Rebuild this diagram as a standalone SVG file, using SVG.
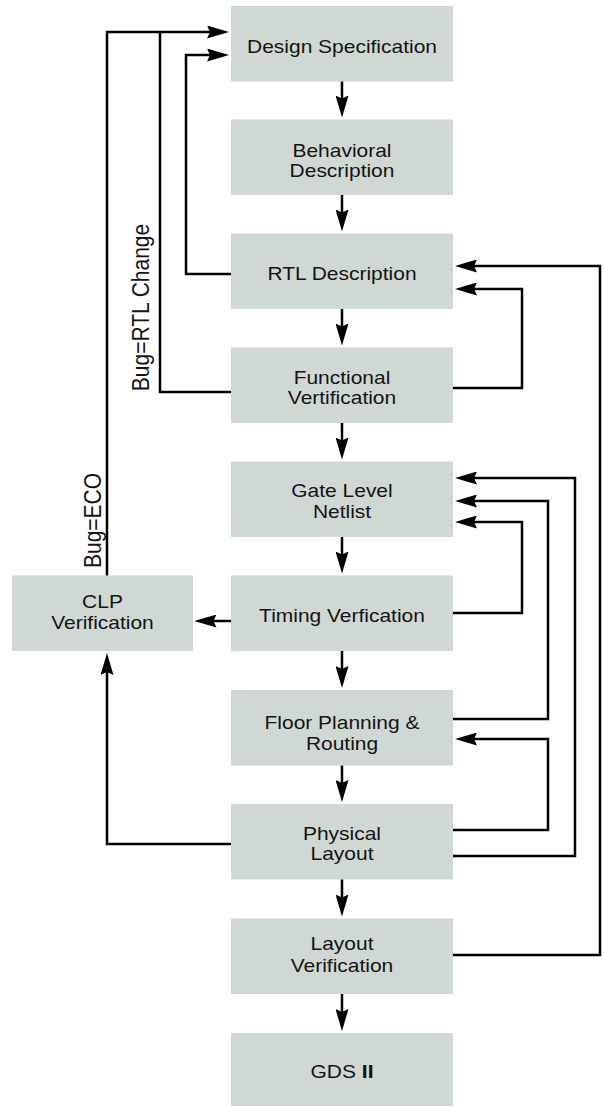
<svg xmlns="http://www.w3.org/2000/svg" width="604" height="1107" viewBox="0 0 604 1107">
<style>
.box{fill:#cfd8d3;}
.t{font-family:"Liberation Sans",Arial,Helvetica,sans-serif;font-size:18px;fill:#141414;text-anchor:middle;}
.r{font-family:"Liberation Sans",Arial,Helvetica,sans-serif;font-size:21px;fill:#141414;text-anchor:middle;}
.c{fill:none;stroke:#000;stroke-width:2.5;}
.a{marker-end:url(#ah);}
</style>
<defs>
<marker id="ah" markerUnits="userSpaceOnUse" viewBox="0 0 22 13" markerWidth="22" markerHeight="13" refX="4" refY="6.5" orient="auto">
<path d="M0,0 L22,6.5 L0,13 L3,6.5 z" fill="#000"/>
</marker>
</defs>
<rect width="604" height="1107" fill="#fff"/>

<g id="design-spec"><rect class="box" x="231" y="6" width="222" height="75.5"/>
<text class="t" transform="translate(342,52.5) scale(1.165,1)">Design Specification</text></g>
<g id="behavioral"><rect class="box" x="231" y="119.5" width="222" height="75.5"/>
<text class="t" transform="translate(342,156.7) scale(1.165,1)">Behavioral</text>
<text class="t" transform="translate(342,176.7) scale(1.165,1)">Description</text></g>
<g id="rtl"><rect class="box" x="231" y="233.5" width="222" height="75.5"/>
<text class="t" transform="translate(342,280) scale(1.165,1)">RTL Description</text></g>
<g id="functional"><rect class="box" x="231" y="347.5" width="222" height="75.5"/>
<text class="t" transform="translate(342,383.5) scale(1.165,1)">Functional</text>
<text class="t" transform="translate(342,404) scale(1.165,1)">Vertification</text></g>
<g id="gate"><rect class="box" x="231" y="461.5" width="222" height="75.5"/>
<text class="t" transform="translate(342,497) scale(1.165,1)">Gate Level</text>
<text class="t" transform="translate(342,517.5) scale(1.165,1)">Netlist</text></g>
<g id="timing"><rect class="box" x="231" y="575.5" width="222" height="75.5"/>
<text class="t" transform="translate(342,621.7) scale(1.165,1)">Timing Verfication</text></g>
<g id="clp"><rect class="box" x="12" y="575.5" width="181" height="75.5"/>
<text class="t" transform="translate(102.5,607.5) scale(1.165,1)">CLP</text>
<text class="t" transform="translate(102.5,629) scale(1.165,1)">Verification</text></g>
<g id="floor"><rect class="box" x="231" y="690" width="222" height="75.5"/>
<text class="t" transform="translate(342,729.3) scale(1.165,1)">Floor Planning &amp;</text>
<text class="t" transform="translate(342,750) scale(1.165,1)">Routing</text></g>
<g id="physical"><rect class="box" x="231" y="804" width="222" height="75.5"/>
<text class="t" transform="translate(342,840) scale(1.165,1)">Physical</text>
<text class="t" transform="translate(342,860) scale(1.165,1)">Layout</text></g>
<g id="layout-ver"><rect class="box" x="231" y="918.5" width="222" height="75.5"/>
<text class="t" transform="translate(342,950) scale(1.165,1)">Layout</text>
<text class="t" transform="translate(342,971.5) scale(1.165,1)">Verification</text></g>
<g id="gds"><rect class="box" x="231" y="1033" width="222" height="73"/>
<text class="t" transform="translate(342,1078) scale(1.165,1)">GDS <tspan font-weight="bold">II</tspan></text></g>

<g id="connectors">
<path class="c a" d="M342,81.5 V99.5"/>
<path class="c a" d="M342,195 V213.5"/>
<path class="c a" d="M342,309 V327.5"/>
<path class="c a" d="M342,423 V441.5"/>
<path class="c a" d="M342,537 V555.5"/>
<path class="c a" d="M342,651 V670"/>
<path class="c a" d="M342,765.5 V784"/>
<path class="c a" d="M342,879.5 V898.5"/>
<path class="c a" d="M342,994 V1013"/>

<path class="c a" d="M107,575.5 V32 H211"/>
<path class="c" d="M231,392 H160 V32"/>
<path class="c a" d="M231,274 H186 V55 H211"/>
<path class="c a" d="M231,621 H212.5"/>
<path class="c a" d="M231,844 H107 V671"/>

<path class="c a" d="M453,388 H522 V289 H473"/>
<path class="c a" d="M453,955 H600 V266 H473"/>
<path class="c a" d="M453,613 H522 V522 H473"/>
<path class="c a" d="M453,719 H548 V501 H473"/>
<path class="c a" d="M453,856 H575 V478 H473"/>
<path class="c a" d="M453,830 H548 V739 H473"/>

<text class="r" transform="translate(149,307.5) scale(1.165,1) rotate(-90)">Bug=RTL Change</text>
<text class="r" transform="translate(101,520.5) scale(1.165,1) rotate(-90)">Bug=ECO</text>
</g>
</svg>
